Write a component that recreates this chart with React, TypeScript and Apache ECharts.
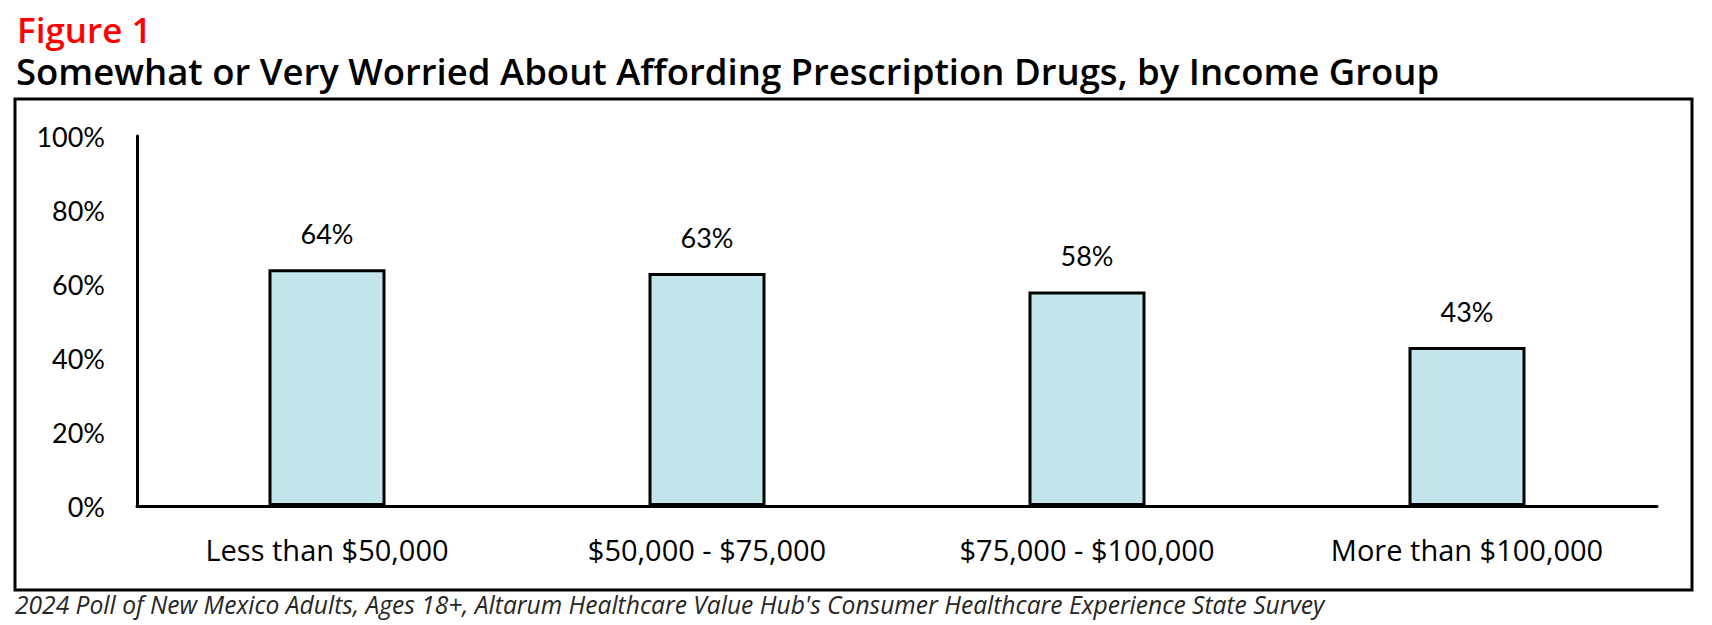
import React, { useEffect, useRef } from "react";
import * as echarts from "echarts";

const categories = ["Less than $50,000", "$50,000 - $75,000", "$75,000 - $100,000", "More than $100,000"];
const values = [64, 63, 58, 43];
const yTicks = { min: 0, max: 100, interval: 20 };
const figureLabel = "Figure 1";
const titleText = "Somewhat or Very Worried About Affording Prescription Drugs, by Income Group";
const footnote = "2024 Poll of New Mexico Adults, Ages 18+, Altarum Healthcare Value Hub's Consumer Healthcare Experience State Survey";

const W = 1712;
const H = 625;

export default function App() {
  const ref = useRef<HTMLDivElement>(null);
  useEffect(() => {
    document.body.style.margin = "0";
    const chart = echarts.init(ref.current!, null, { renderer: "svg" });
    chart.setOption({
      animation: false,
      backgroundColor: "#ffffff",
      grid: { left: 137, right: 55, top: 136, bottom: 119, containLabel: false },
      xAxis: {
        type: "category",
        data: categories,
        axisLine: { show: true, lineStyle: { color: "#000", width: 3 } },
        axisTick: { show: false },
        axisLabel: {
          color: "#000",
          fontFamily: "Open Sans",
          fontSize: 29,
          margin: 29,
          interval: 0,
        },
      },
      yAxis: {
        type: "value",
        min: yTicks.min,
        max: yTicks.max,
        interval: yTicks.interval,
        axisLine: { show: true, lineStyle: { color: "#000", width: 3 } },
        axisTick: { show: false },
        splitLine: { show: false },
        axisLabel: {
          color: "#000",
          fontFamily: "Lato",
          fontSize: 27,
          margin: 32,
          formatter: "{value}%",
        },
      },
      series: [
        {
          type: "bar",
          data: values,
          barWidth: 117,
          itemStyle: { color: "#C2E6EB", borderColor: "#000", borderWidth: 3 },
          label: {
            show: true,
            position: "top",
            distance: 22,
            color: "#000",
            fontFamily: "Lato",
            fontSize: 27,
            formatter: "{c}%",
          },
        },
      ],
      graphic: [
        {
          type: "rect",
          shape: { x: 15, y: 99, width: 1677, height: 491 },
          style: { fill: "none", stroke: "#000", lineWidth: 3 },
          z: -1,
        },
        {
          type: "text",
          x: 17,
          y: 29,
          style: {
            text: figureLabel,
            fill: "#FF0000",
            font: "600 35px 'Open Sans'",
            lineHeight: 35,
            textVerticalAlign: "middle",
          },
        },
        {
          type: "text",
          x: 16,
          y: 71,
          style: {
            text: titleText,
            fill: "#000",
            font: "600 36.5px 'Open Sans'",
            lineHeight: 36,
            textVerticalAlign: "middle",
          },
        },
        {
          type: "text",
          x: 15,
          y: 604,
          style: {
            text: footnote,
            fill: "#262626",
            font: "italic 24.6px 'Open Sans'",
            textVerticalAlign: "middle",
          },
        },
      ],
    });
    return () => chart.dispose();
  }, []);
  return <div ref={ref} style={{ width: W, height: H }} />;
}
